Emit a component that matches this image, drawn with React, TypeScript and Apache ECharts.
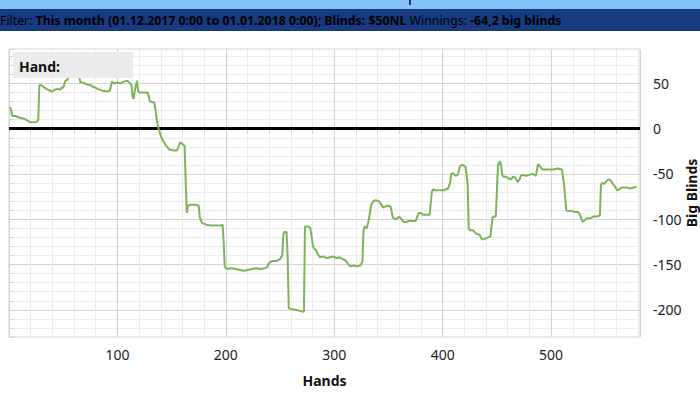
import React, { useEffect, useRef } from "react";
import * as echarts from "echarts";

const hands = [
  1, 2, 3, 6, 10, 14, 17, 20, 24, 26, 27, 28, 30, 33, 36, 40, 42, 45, 47, 49, 50, 52, 54, 55, 56, 58, 62, 64, 65, 66, 68, 72, 75, 78, 82, 86, 90, 93, 95, 97, 100, 103, 106, 109, 111, 113, 114, 115, 116, 118, 119, 120, 128, 129, 130, 134, 135, 136, 137, 138, 140, 142, 145, 148, 152, 155, 157, 158, 160, 162,
  163, 164, 165, 168, 172, 175, 176, 178, 182, 186, 190, 195, 197, 198, 199, 201, 205, 209, 213, 217, 220, 224, 228, 232, 236, 238, 240, 243, 247, 250, 252, 253, 254, 256, 257, 258, 260, 264, 268, 271, 272, 273, 276, 278, 280, 281, 283, 285, 287, 290, 293, 296, 299, 302, 305, 308, 311, 313, 315, 318, 321, 324, 326,
  327, 328, 330, 332, 334, 336, 338, 341, 343, 345, 347, 349, 352, 354, 356, 358, 360, 362, 364, 366, 369, 372, 375, 378, 380, 382, 385, 388, 390, 391, 393, 397, 401, 405, 407, 408, 409, 412, 414, 416, 418, 421, 423, 424, 425, 428, 431, 434, 436, 438, 440, 442, 444, 446, 447, 449, 451,
  453, 454, 455, 456, 458, 461, 463, 465, 467, 469, 471, 472, 474, 477, 480, 483, 486, 488, 490, 492, 494, 498, 502, 506, 510, 512, 514, 516, 519, 522, 525, 527, 529, 531, 533, 536, 539, 542, 545, 546, 547, 549, 551, 553, 555, 557, 559, 561, 563, 565, 567, 570, 573, 576, 579, 582,
];

const bigBlinds = [
  24, 20, 14, 14, 12, 11, 9, 7, 7, 8, 10, 48, 48, 45, 43, 41, 43, 44, 43, 46, 45, 53, 54, 58, 62, 62, 62, 61, 56, 51, 51, 49, 48, 46, 44, 42, 41, 42, 52, 50, 51, 50, 52, 53, 51, 48, 35, 33, 42, 53, 42, 40, 40, 35, 30, 29, 22, 12, 5, 0, -8, -13, -19, -23, -24, -24, -18, -15, -17, -19,
  -60, -93, -85, -84, -84, -85, -98, -104, -106, -107, -107, -107, -106, -125, -152, -155, -154, -155, -156, -157, -156, -155, -154, -155, -154, -153, -148, -146, -146, -144, -140, -117, -114, -114, -140, -198, -199, -200, -201, -202, -202, -108, -108, -110, -127, -132, -134, -139, -142, -141, -143, -142, -141, -143, -142, -144, -146, -150, -152, -151, -152, -151, -147,
  -112, -108, -110, -100, -84, -80, -79, -80, -83, -87, -86, -85, -86, -98, -100, -99, -97, -100, -103, -103, -102, -102, -102, -93, -93, -95, -95, -95, -70, -67, -68, -68, -68, -66, -59, -50, -49, -52, -51, -41, -40, -42, -60, -110, -112, -112, -116, -117, -122, -122, -121, -120, -119, -98, -97, -97,
  -40, -36, -42, -51, -53, -53, -55, -56, -53, -54, -59, -56, -52, -51, -52, -51, -50, -52, -39, -42, -45, -45, -45, -45, -44, -45, -62, -90, -91, -91, -92, -92, -96, -103, -101, -99, -99, -97, -97, -96, -62, -60, -61, -58, -56, -57, -61, -64, -68, -67, -65, -65, -65, -66, -65, -64.2,
];

const xTickLabels = [100, 200, 300, 400, 500];
const yTickLabels = [50, 0, -50, -100, -150, -200];
const zeroLine = [0];

const FONT = "Noto Sans";

export default function App() {
  const ref = useRef<HTMLDivElement>(null);
  useEffect(() => {
    const chart = echarts.init(ref.current!, null, { renderer: "svg" });
    const data = hands.map((h, i) => [h, bigBlinds[i]]);
    const last = data[data.length - 1];
    const minor = "#ececec";
    const major = "#d4d4d4";
    chart.setOption({
      animation: false,
      grid: {
        left: 9,
        right: 60,
        top: 49,
        bottom: 76,
        show: true,
        borderColor: "#d2d2d2",
        borderWidth: 1,
        outerBoundsMode: "none",
        containLabel: false,
      },
      xAxis: {
        type: "value",
        min: 0,
        max: 582,
        interval: 20,
        name: "Hands",
        nameLocation: "middle",
        nameGap: 36,
        nameMoveOverlap: false,
        nameTextStyle: { fontFamily: FONT, fontSize: 14, fontWeight: "bold", color: "#111" },
        axisLine: { show: false },
        axisTick: { show: true, length: 5, lineStyle: { color: "#d2d2d2" } },
        axisLabel: {
          formatter: (v: number) => (xTickLabels.includes(v) ? String(v) : ""),
          margin: 10,
          fontFamily: FONT,
          fontSize: 14,
          color: "#222",
        },
        splitLine: { show: true, lineStyle: { color: [major, minor, minor, minor, minor], width: 1 } },
      },
      yAxis: {
        type: "value",
        position: "right",
        min: -230,
        max: 88,
        interval: 10,
        name: "Big Blinds",
        nameLocation: "middle",
        nameGap: 44,
        nameMoveOverlap: false,
        nameTextStyle: { fontFamily: FONT, fontSize: 14, fontWeight: "bold", color: "#111" },
        axisLine: { show: false },
        axisTick: { show: true, length: 5, lineStyle: { color: "#d2d2d2" } },
        axisLabel: {
          formatter: (v: number) => (yTickLabels.includes(v) ? String(v) : ""),
          margin: 13,
          fontFamily: FONT,
          fontSize: 14,
          color: "#222",
        },
        splitLine: { show: true, lineStyle: { color: [minor, minor, minor, major, minor], width: 1 } },
      },
      series: [
        {
          type: "line",
          data,
          showSymbol: false,
          symbol: "none",
          lineStyle: { color: "#7db35c", width: 2 },
          z: 3,
          markLine: {
            silent: true,
            symbol: "none",
            label: { show: false },
            lineStyle: { color: "#000", width: 3, type: "solid" },
            data: zeroLine.map((v) => ({ yAxis: v })),
            z: 2,
          },
        },
        {
          type: "scatter",
          data: [last],
          symbol: "rect",
          symbolSize: 3,
          itemStyle: { color: "#e8645a" },
          z: 4,
        },
      ],
      graphic: [
        { type: "rect", shape: { x: 0, y: 0, width: 700, height: 9 }, style: { fill: "#84c3f7" } },
        { type: "rect", shape: { x: 409, y: 0, width: 2, height: 5 }, style: { fill: "#2a3a50" } },
        { type: "rect", shape: { x: 0, y: 9, width: 700, height: 22 }, style: { fill: "#173a80" } },
        {
          type: "text",
          x: 0,
          y: 20,
          style: {
            text: "{r|Filter: }{b|This month (01.12.2017 0:00 to 01.01.2018 0:00); Blinds: $50NL}{r| Winnings: }{b|-64,2 big blinds}",
            verticalAlign: "middle",
            rich: {
              r: { fontFamily: FONT, fontSize: 12.3, color: "#ffffff" },
              b: { fontFamily: FONT, fontSize: 12.3, fontWeight: "bold", color: "#ffffff" },
            },
          },
        },
        { type: "rect", shape: { x: 13, y: 52, width: 120, height: 26 }, style: { fill: "#ebebeb" }, z: 10 },
        {
          type: "text",
          x: 19,
          y: 66,
          z: 11,
          style: { text: "Hand:", fontFamily: FONT, fontSize: 14, fontWeight: "bold", fill: "#111", verticalAlign: "middle" },
        },
      ],
    });
    return () => chart.dispose();
  }, []);
  return <div ref={ref} style={{ position: "absolute", left: 0, top: 0, width: 700, height: 413 }} />;
}
